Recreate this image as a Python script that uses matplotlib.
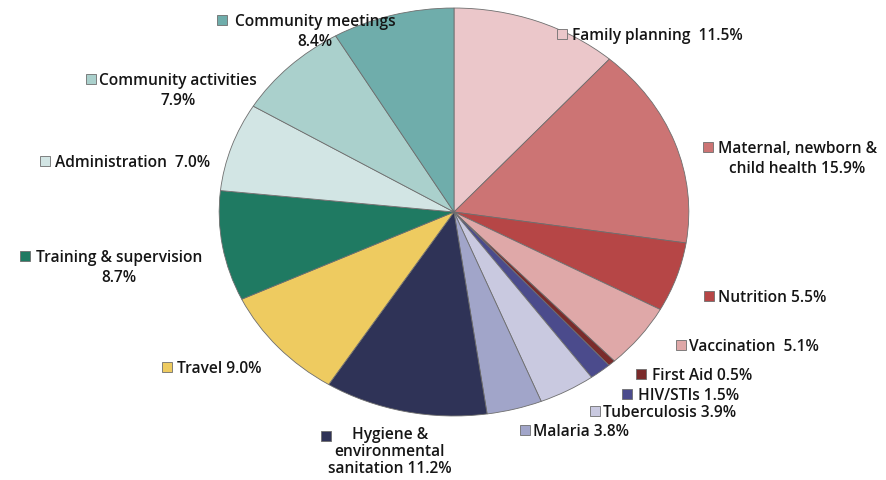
import matplotlib.pyplot as plt
from matplotlib.patches import Rectangle

categories = ["Family planning", "Maternal, newborn & child health", "Nutrition",
              "Vaccination", "First Aid", "HIV/STIs", "Tuberculosis", "Malaria",
              "Hygiene & environmental sanitation", "Travel", "Training & supervision",
              "Administration", "Community activities", "Community meetings"]
values = [11.5, 15.9, 5.5, 5.1, 0.5, 1.5, 3.9, 3.8, 11.2, 9.0, 8.7, 7.0, 7.9, 8.4]
label_fmt = ["Family planning  {:.1f}%", "Maternal, newborn &\nchild health {:.1f}%",
             "Nutrition {:.1f}%", "Vaccination  {:.1f}%", "First Aid {:.1f}%",
             "HIV/STIs {:.1f}%", "Tuberculosis {:.1f}%", "Malaria {:.1f}%",
             "Hygiene &\nenvironmental\nsanitation {:.1f}%", "Travel {:.1f}%",
             "Training & supervision\n{:.1f}%", "Administration  {:.1f}%",
             "Community activities\n{:.1f}%", "Community meetings\n{:.1f}%"]
colors = ["#EBC7CA", "#CC7474", "#B64646", "#DFA8A8", "#7A2B2B", "#4B4B8C", "#C9C9E0",
          "#A1A5C9", "#2F3357", "#EECB60", "#1F7A62", "#D2E5E4", "#AAD0CC", "#6FADAB"]

# label layout in image pixels: square centre x, y ; text left x
label_pos = [(562, 35, 572), (708, 148, 718), (709, 297, 718), (681, 346, 689),
             (641, 375, 652), (627, 395, 638), (595, 412, 603), (525, 431, 533),
             (326, 437, 336), (167, 368, 177), (25, 257, 36), (45, 162, 55),
             (91, 80, 99), (222, 21, 235)]

W, H = 887, 481
fig = plt.figure(figsize=(W / 100, H / 100), dpi=100)
ax = fig.add_axes([218 / W, (H - 418) / H, 472 / W, 410 / H])
ax.pie(values, colors=colors, startangle=90, counterclock=False,
       wedgeprops=dict(edgecolor="#6E6E6E", linewidth=0.6))
ax.set_aspect("auto")
ax.set_xlim(-1.005, 1.005)
ax.set_ylim(-1.005, 1.005)
ax.axis("off")


def fx(x):
    return x / W


def fy(y):
    return 1 - y / H


font = dict(fontsize=11.2, family="Open Sans", weight="semibold",
            color="#151515", va="top", multialignment="center")

for fmt, v, c, (sx, sy, tx) in zip(label_fmt, values, colors, label_pos):
    fig.patches.append(Rectangle((fx(sx - 5), fy(sy + 5)), 10 / W, 10 / H,
                                 transform=fig.transFigure, facecolor=c,
                                 edgecolor="#6E6E6E", linewidth=0.6))
    txt = fmt.format(v)
    if tx == 336:
        # hygiene block: lines centred under each other, tighter to fit
        fig.text(fx(390), fy(sy - 10), txt, ha="center", linespacing=1.08, **font)
    else:
        fig.text(fx(tx), fy(sy - 7), txt, ha="left", linespacing=1.3, **font)

fig.savefig("out.png", dpi=100)
